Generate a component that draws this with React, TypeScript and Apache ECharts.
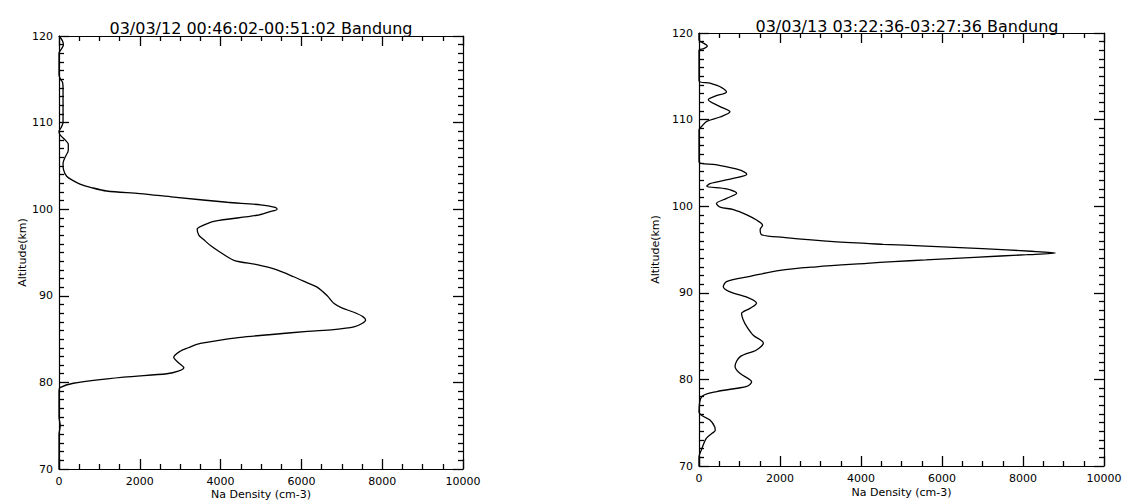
import React, { useEffect, useRef } from "react";
import * as echarts from "echarts";

const titles = [
  "03/03/12 00:46:02-00:51:02 Bandung",
  "03/03/13 03:22:36-03:27:36 Bandung",
];
const xTitle = "Na Density (cm-3)";
const yTitle = "Altitude(km)";

// Left profile (altitude km, Na density cm-3)
const altA = [
  120, 119.5, 119.0, 118.5, 118.0, 117.0, 115.5, 115.0, 114.6, 114.0, 112.0, 110.0, 109.4, 109.0,
  108.6, 108.0, 107.5, 106.8, 106.0, 105.3, 104.6, 103.8, 103.3, 102.9, 102.5, 102.1, 101.8,
  101.4, 100.8, 100.5, 100.2, 100.0, 99.7, 99.3, 98.6, 98.1, 97.7, 97.0, 96.5, 95.8, 95.0,
  94.1, 93.6, 93.1, 92.2, 91.5, 91.0, 90.0, 89.1, 88.6, 88.1, 87.6, 87.2, 86.8, 86.4, 86.1,
  85.9, 85.5, 85.2, 84.5, 84.0, 83.6, 82.9, 82.3, 81.7, 81.3, 81.0, 80.6, 79.9, 79.4, 79.0,
  76.0, 75.0, 74.0, 70.0,
];
const denA = [
  0, 80, 110, 60, 0, 0, 0, 40, 90, 100, 100, 100, 50, 0,
  20, 150, 230, 230, 150, 100, 110, 190, 350, 520, 800, 1180, 2000,
  2840, 4160, 4990, 5350, 5400, 5200, 4900, 3830, 3550, 3420, 3460, 3580, 3750, 4000,
  4330, 4900, 5320, 5810, 6150, 6390, 6640, 6810, 7000, 7300, 7520, 7590, 7500, 7300, 6800,
  6150, 5200, 4490, 3500, 3200, 3000, 2840, 2950, 3090, 2950, 2670, 1600, 355, 25, 0,
  0, 30, 0, 0,
];

// Right profile
const altB = [
  120, 119.2, 118.8, 118.5, 118.2, 118.0, 114.5, 114.2, 113.7, 113.2, 112.7, 112.3, 111.5,
  110.9, 110.3, 109.8, 109.2, 108.8, 105.1, 104.8, 104.2, 103.7, 103.2, 102.6, 102.3, 102.0,
  101.5, 100.9, 100.3, 99.9, 99.6, 99.0, 98.4, 97.8, 97.3, 96.7, 96.4, 95.9, 95.6, 95.4,
  95.1, 94.8, 94.6, 94.4, 94.1, 93.8, 93.6, 93.4, 93.0, 92.6, 91.9, 91.3, 90.7, 90.1, 89.5,
  88.8, 88.2, 87.6, 86.9, 86.1, 85.1, 84.2, 83.4, 82.6, 81.5, 80.7, 79.7, 79.2, 78.6, 78.0,
  76.2, 75.8, 75.3, 74.5, 74.1, 73.8, 73.2, 72.0, 71.0, 70.0,
];
const denB = [
  0, 0, 120, 205, 120, 0, 0, 270, 560, 680, 400, 230, 520,
  765, 520, 190, 65, 0, 0, 410, 1000, 1180, 840, 270, 190, 680,
  930, 680, 430, 520, 850, 1180, 1420, 1570, 1510, 1550, 2080, 3320, 4550, 5600,
  7000, 8200, 8800, 8100, 6800, 5600, 4800, 4140, 2900, 2000, 1260, 680, 600, 765, 1180,
  1420, 1260, 1050, 1090, 1180, 1340, 1590, 1420, 1010, 890, 1010, 1300, 1180, 440, 65,
  0, 80, 270, 390, 400, 330, 180, 70, 0, 0,
];

const font = "'DejaVu Sans', sans-serif";
const fmt = (v: number) => String(v);

function makeAxes(gridIndex: number, nameGapY: number, nameGapX: number) {
  const tickStyle = { color: "#000", width: 1.3 };
  const common = {
    axisLine: { show: true, onZero: false, lineStyle: { color: "#000", width: 1.2 } },
    splitLine: { show: false },
  };
  const x = [
    {
      type: "value", gridIndex, position: "bottom", min: 0, max: 10000, interval: 2000,
      name: xTitle, nameLocation: "middle", nameGap: nameGapX, nameMoveOverlap: false,
      nameTextStyle: { color: "#000", fontSize: 11, fontFamily: font },
      ...common,
      axisTick: { show: true, inside: true, length: 10, lineStyle: tickStyle },
      minorTick: { show: true, splitNumber: 4, length: 5, lineStyle: tickStyle },
      axisLabel: { show: true, color: "#000", fontSize: 11, fontFamily: font, margin: 7, formatter: fmt },
    },
    {
      type: "value", gridIndex, position: "top", min: 0, max: 10000, interval: 2000,
      ...common,
      axisTick: { show: true, inside: true, length: 10, lineStyle: tickStyle },
      minorTick: { show: true, splitNumber: 4, length: 5, lineStyle: tickStyle },
      axisLabel: { show: false },
    },
  ];
  const y = [
    {
      type: "value", gridIndex, position: "left", min: 70, max: 120, interval: 10,
      name: yTitle, nameLocation: "middle", nameGap: nameGapY,
      nameTextStyle: { color: "#000", fontSize: 11, fontFamily: font },
      ...common,
      axisTick: { show: true, inside: true, length: 10, lineStyle: tickStyle },
      minorTick: { show: true, splitNumber: 10, length: 5, lineStyle: tickStyle },
      axisLabel: { show: true, color: "#000", fontSize: 11, fontFamily: font, margin: 6, formatter: fmt },
    },
    {
      type: "value", gridIndex, position: "right", min: 70, max: 120, interval: 10,
      ...common,
      axisTick: { show: true, inside: true, length: 10, lineStyle: tickStyle },
      minorTick: { show: true, splitNumber: 10, length: 5, lineStyle: tickStyle },
      axisLabel: { show: false },
    },
  ];
  return { x, y };
}

export default function App() {
  const ref = useRef<HTMLDivElement>(null);
  useEffect(() => {
    if (!ref.current) return;
    const chart = echarts.init(ref.current, null, { renderer: "svg" });
    const a = makeAxes(0, 26, 20);
    const b = makeAxes(1, 38, 21);
    const dataA = altA.map((h, i) => [denA[i], h]);
    const dataB = altB.map((h, i) => [denB[i], h]);
    chart.setOption({
      animation: false,
      backgroundColor: "#fff",
      title: [
        {
          text: titles[0], left: 256, top: 15, textAlign: "center",
          textStyle: { color: "#000", fontSize: 16, fontWeight: "normal", fontFamily: font },
        },
        {
          text: titles[1], left: 902, top: 13, textAlign: "center",
          textStyle: { color: "#000", fontSize: 16, fontWeight: "normal", fontFamily: font },
        },
      ],
      grid: [
        { left: 59, top: 36, width: 404, height: 433, outerBoundsMode: "none", containLabel: false },
        { left: 699, top: 33, width: 405, height: 433, outerBoundsMode: "none", containLabel: false },
      ],
      xAxis: [...a.x, ...b.x],
      yAxis: [...a.y, ...b.y],
      series: [
        {
          type: "line", xAxisIndex: 0, yAxisIndex: 0, data: dataA, showSymbol: false,
          smooth: 0.3, lineStyle: { color: "#000", width: 1.3 },
        },
        {
          type: "line", xAxisIndex: 2, yAxisIndex: 2, data: dataB, showSymbol: false,
          smooth: 0.3, lineStyle: { color: "#000", width: 1.3 },
        },
      ],
    });
    return () => chart.dispose();
  }, []);
  return (
    <div
      ref={ref}
      style={{ position: "fixed", left: 0, top: 0, width: 1126, height: 502, background: "#fff" }}
    />
  );
}
